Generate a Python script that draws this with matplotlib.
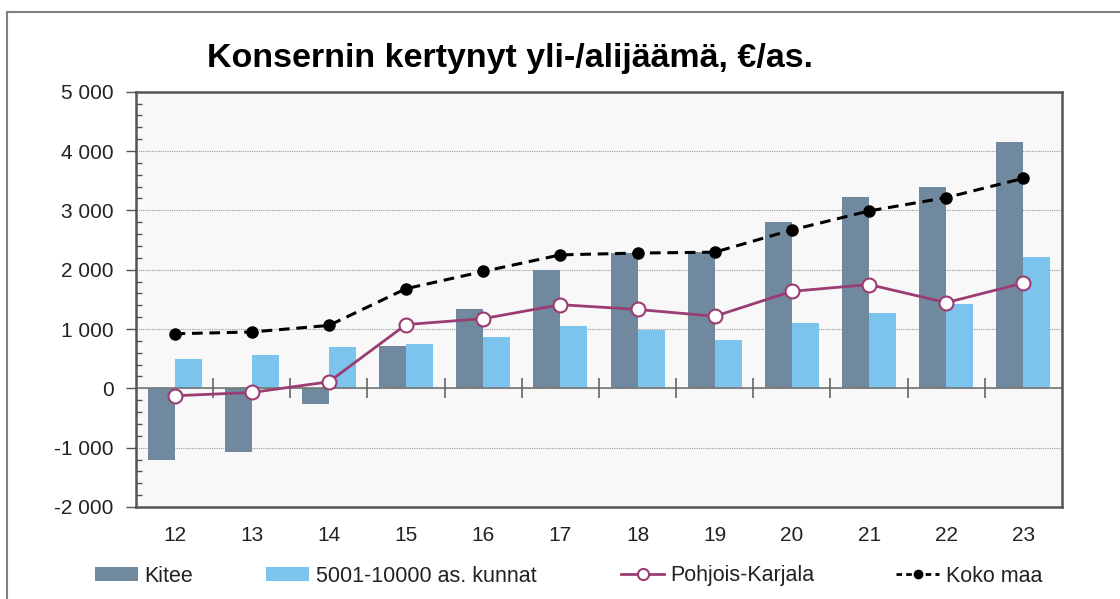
import matplotlib
matplotlib.use("Agg")
import matplotlib.pyplot as plt
from matplotlib.lines import Line2D
from matplotlib.patches import Patch
from matplotlib.ticker import MultipleLocator, FuncFormatter
import numpy as np

plt.rcParams['font.family'] = ['Liberation Sans', 'DejaVu Sans']

years = ["12", "13", "14", "15", "16", "17", "18", "19", "20", "21", "22", "23"]
kitee = [-1200, -1080, -270, 710, 1330, 2000, 2280, 2300, 2800, 3230, 3400, 4150]
kunnat = [495, 570, 690, 740, 860, 1050, 990, 820, 1095, 1275, 1430, 2215]
pohjois_karjala = [-125, -70, 110, 1075, 1175, 1410, 1330, 1215, 1635, 1750, 1445, 1775]
koko_maa = [920, 950, 1060, 1680, 1970, 2250, 2280, 2295, 2670, 2990, 3215, 3540]

C_KITEE = "#71899f"
C_KUNNAT = "#7cc4ee"
C_PK = "#9b3c72"

fig = plt.figure(figsize=(11.2, 5.99), dpi=100)
ax = fig.add_axes([0.1214, 0.1536, 0.8268, 0.6933])
ax.set_facecolor("#f8f8f8")

x = np.arange(len(years))
w = 0.35
ax.bar(x - w/2, kitee, width=w, color=C_KITEE, zorder=2)
ax.bar(x + w/2, kunnat, width=w, color=C_KUNNAT, zorder=2)
ax.axhline(0, color="#777777", lw=1.2, zorder=2.5)
# category boundary ticks crossing the zero line
ax.plot(x[:-1] + 0.5, np.zeros(len(x) - 1), ls="none", marker="|", ms=14,
        mew=1.2, color="#666666", zorder=2.6)
ax.plot(x, pohjois_karjala, color=C_PK, lw=2, marker="o", ms=10,
        mfc="white", mec=C_PK, mew=1.5, zorder=4)
ax.plot(x, koko_maa, color="black", lw=2.2, ls=(0, (3.5, 2.2)), marker="o", ms=8,
        zorder=5)

ax.set_xlim(-0.5, len(x) - 0.5)
ax.set_ylim(-2000, 5000)
ax.yaxis.set_major_locator(MultipleLocator(1000))
ax.yaxis.set_minor_locator(MultipleLocator(200))
ax.yaxis.set_major_formatter(FuncFormatter(lambda v, p: f"{int(v):,}".replace(",", " ")))
ax.grid(axis="y", which="major", color="#999999", ls=(0, (1, 1)), lw=0.8, zorder=1)
ax.tick_params(axis="y", which="major", direction="out", length=7, width=1,
               color="#555555", labelsize=15, labelcolor="#222222", pad=9)
ax.tick_params(axis="y", which="minor", direction="in", length=4, width=1,
               color="#555555")
ax.set_xticks(x)
ax.set_xticklabels(years)
ax.tick_params(axis="x", length=0, labelsize=15, labelcolor="#222222", pad=14)
for s in ax.spines.values():
    s.set_color("#555555")
    s.set_linewidth(1.8)

fig.text(0.455, 1 - 66.7/599, "Konsernin kertynyt yli-/alijäämä, €/as.",
         ha="center", va="baseline", fontsize=24.5, fontweight="bold")

# outer frame
fig.add_artist(Line2D([7/1120, 7/1120], [0, 1 - 12/599], color="#808080", lw=1.5,
                      transform=fig.transFigure))
fig.add_artist(Line2D([7/1120, 1], [1 - 12/599, 1 - 12/599], color="#808080", lw=1.5,
                      transform=fig.transFigure))

handles = [
    (Patch(facecolor=C_KITEE), "Kitee", 95),
    (Patch(facecolor=C_KUNNAT), "5001-10000 as. kunnat", 266),
    (Line2D([], [], color=C_PK, lw=2, marker="o", ms=8, mfc="white", mec=C_PK,
            mew=1.5), "Pohjois-Karjala", 621),
    (Line2D([], [], color="black", lw=2, ls=(0, (2, 1.5)), marker="o", ms=6),
     "Koko maa", 896),
]
for h, lab, px in handles:
    lg = fig.legend([h], [lab], loc="center left", bbox_to_anchor=(px/1120, 1 - 576/599),
                    frameon=False, fontsize=15.5, handlelength=2.0, handleheight=0.6,
                    handletextpad=0.3, borderpad=0, borderaxespad=0)
    for t in lg.get_texts():
        t.set_color("#222222")

fig.savefig("out.png", dpi=100)
